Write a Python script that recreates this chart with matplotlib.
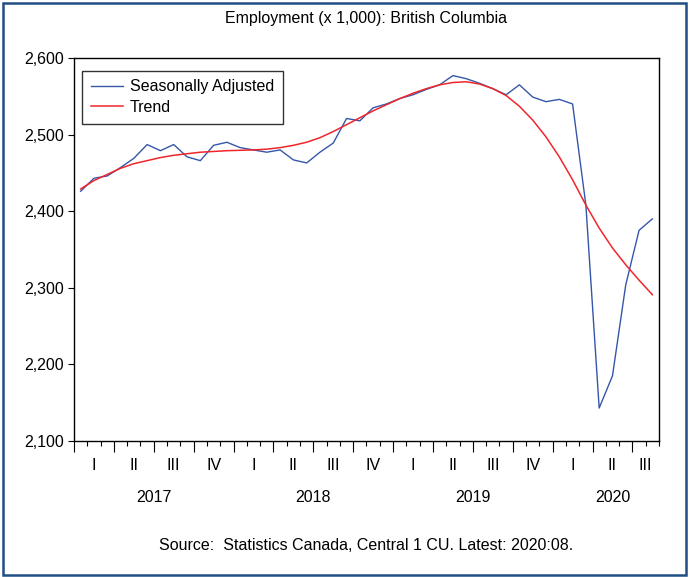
import numpy as np
import matplotlib
import matplotlib.pyplot as plt
from matplotlib.patches import Rectangle
from matplotlib.ticker import FuncFormatter, MultipleLocator
from matplotlib.transforms import blended_transform_factory

matplotlib.use('Agg')
plt.rcParams['font.family'] = ['Liberation Sans', 'DejaVu Sans']

# monthly data, 2017:01 .. 2020:08 (thousands)
years = [2017, 2018, 2019, 2020]
quarters = ['I', 'II', 'III', 'IV']
seas_adj = [2426, 2443, 2446, 2457, 2469, 2487, 2479, 2487, 2471, 2466, 2486, 2490,
            2483, 2480, 2477, 2480, 2467, 2463, 2477, 2489, 2521, 2518, 2535, 2540,
            2547, 2552, 2559, 2565, 2577, 2573, 2567, 2560, 2552, 2565, 2549, 2543,
            2546, 2540, 2408, 2143, 2185, 2304, 2375, 2390]
trend = [2429, 2440, 2448, 2456, 2462, 2466, 2470, 2473, 2475, 2477, 2478, 2479,
         2479.5, 2480, 2481, 2483, 2486, 2490, 2496, 2504, 2513, 2522, 2531, 2539,
         2547, 2554, 2560, 2565, 2568, 2569, 2566, 2560, 2551, 2537, 2519, 2497,
         2471, 2441, 2408, 2378, 2352, 2330, 2310, 2291]

n = len(seas_adj)
x = np.arange(n) + 0.5

fig = plt.figure(figsize=(6.91, 5.77), dpi=100)
ax = fig.add_axes([74 / 691, 1 - 441 / 577, 585 / 691, 383 / 577])

ax.plot(x, seas_adj, color='#3557AA', lw=1.0, label='Seasonally Adjusted')
ax.plot(x, trend, color='#F0262B', lw=1.1, label='Trend')

ax.set_xlim(0, n)
ax.set_ylim(2100, 2600)
ax.yaxis.set_major_locator(MultipleLocator(100))
ax.yaxis.set_major_formatter(FuncFormatter(lambda v, p: f'{v:,.0f}'))
ax.tick_params(axis='y', direction='out', length=4, width=0.8, labelsize=11.5, pad=3)

ax.xaxis.set_major_locator(MultipleLocator(3))
ax.xaxis.set_minor_locator(MultipleLocator(1))
ax.tick_params(axis='x', which='major', direction='out', length=8, width=0.8, labelbottom=False)
ax.tick_params(axis='x', which='minor', direction='out', length=3.5, width=0.8)
for s in ax.spines.values():
    s.set_linewidth(1.0)

# quarter and year labels under the axis
tr = blended_transform_factory(ax.transData, fig.transFigure)
for q in range(int(np.ceil(n / 3))):
    lo, hi = q * 3, min(q * 3 + 3, n)
    ax.text((lo + hi) / 2, 1 - 466 / 577, quarters[q % 4], transform=tr,
            ha='center', va='center', fontsize=11.5)
for k, yr in enumerate(years):
    lo = k * 12
    nq = min(4, int(np.ceil((n - lo) / 3)))
    ax.text(lo + nq * 1.5, 1 - 498 / 577, str(yr), transform=tr,
            ha='center', va='center', fontsize=11.5)

leg = ax.legend(loc='upper left', bbox_to_anchor=(0.0137, 0.967), borderaxespad=0,
                fontsize=11.5, frameon=True, fancybox=False, edgecolor='black',
                handlelength=2.0, handletextpad=0.45, borderpad=0.55, labelspacing=0.35)
leg.get_frame().set_linewidth(1.0)

fig.text(366 / 691, 1 - 18 / 577, 'Employment (x 1,000): British Columbia',
         ha='center', va='center', fontsize=11.5)
fig.text(366 / 691, 1 - 546 / 577, 'Source:  Statistics Canada, Central 1 CU. Latest: 2020:08.',
         ha='center', va='center', fontsize=11.5)

fig.patches.append(Rectangle((2.5 / 691, 2 / 577), 683 / 691, 572 / 577,
                             transform=fig.transFigure, fill=False,
                             edgecolor='#1F4E84', lw=1.8))

fig.savefig('out.png', dpi=100)
